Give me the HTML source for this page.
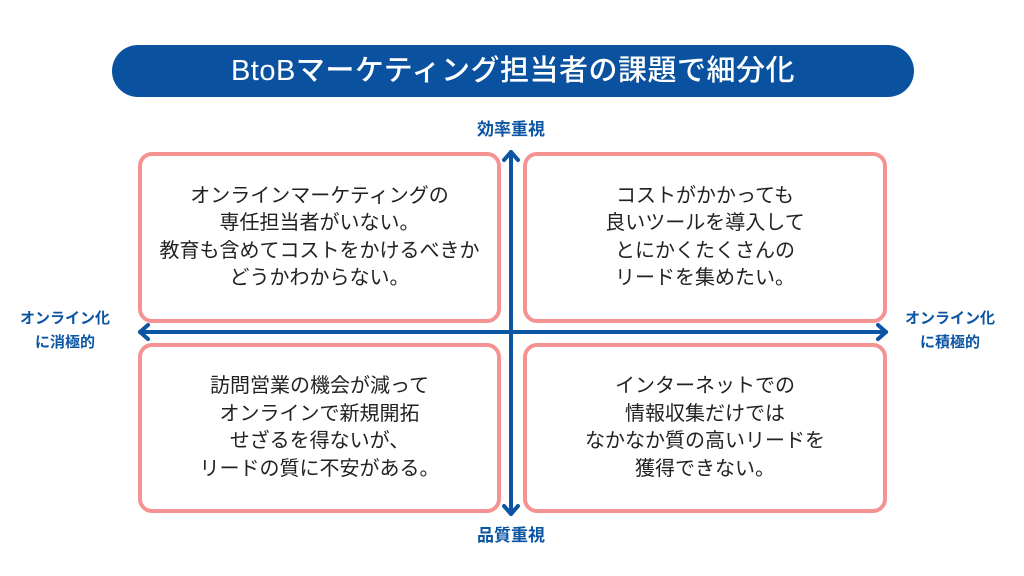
<!DOCTYPE html>
<html><head><meta charset="utf-8"><style>
body{margin:0;width:1024px;height:576px;background:#fff;position:relative;overflow:hidden;font-family:"Liberation Sans","Noto Sans CJK JP",sans-serif;}
.title{position:absolute;left:112px;top:45px;width:802px;height:52px;border-radius:26px;background:#0a52a0;color:#fff;font-size:29px;font-weight:500;text-align:center;line-height:52px;letter-spacing:0.5px}
.box{position:absolute;box-sizing:border-box;border:4px solid #f59292;border-radius:14px;background:#fff;display:flex;align-items:center;justify-content:center;text-align:center;font-size:20px;line-height:27.5px;color:#222}
.lab{position:absolute;color:#0b55a3;font-weight:bold;font-size:15px;line-height:24px;text-align:center}
</style></head><body>
<div class="title">BtoBマーケティング担当者の課題で細分化</div>
<div class="box" style="left:138px;top:152px;width:363px;height:171px">オンラインマーケティングの<br>専任担当者がいない。<br>教育も含めてコストをかけるべきか<br>どうかわからない。</div>
<div class="box" style="left:523px;top:152px;width:364px;height:171px">コストがかかっても<br>良いツールを導入して<br>とにかくたくさんの<br>リードを集めたい。</div>
<div class="box" style="left:138px;top:343px;width:363px;height:170px">訪問営業の機会が減って<br>オンラインで新規開拓<br>せざるを得ないが、<br>リードの質に不安がある。</div>
<div class="box" style="left:523px;top:343px;width:364px;height:170px">インターネットでの<br>情報収集だけでは<br>なかなか質の高いリードを<br>獲得できない。</div>
<svg style="position:absolute;left:0;top:0" width="1024" height="576">
<g stroke="#0b55a3" stroke-width="4" fill="none" stroke-linecap="round" stroke-linejoin="round">
<line x1="511" y1="152" x2="511" y2="514"/>
<polyline points="504,160 511,152 518,160"/>
<polyline points="504,506 511,514 518,506"/>
<line x1="140" y1="332" x2="886" y2="332"/>
<polyline points="148,325 140,332 148,339"/>
<polyline points="878,325 886,332 878,339"/>
</g></svg>
<div class="lab" style="left:451px;top:118px;width:120px;font-size:17px">効率重視</div>
<div class="lab" style="left:451px;top:524px;width:120px;font-size:17px">品質重視</div>
<div class="lab" style="left:5px;top:307px;width:120px">オンライン化<br>に消極的</div>
<div class="lab" style="left:890px;top:307px;width:120px">オンライン化<br>に積極的</div>
</body></html>
